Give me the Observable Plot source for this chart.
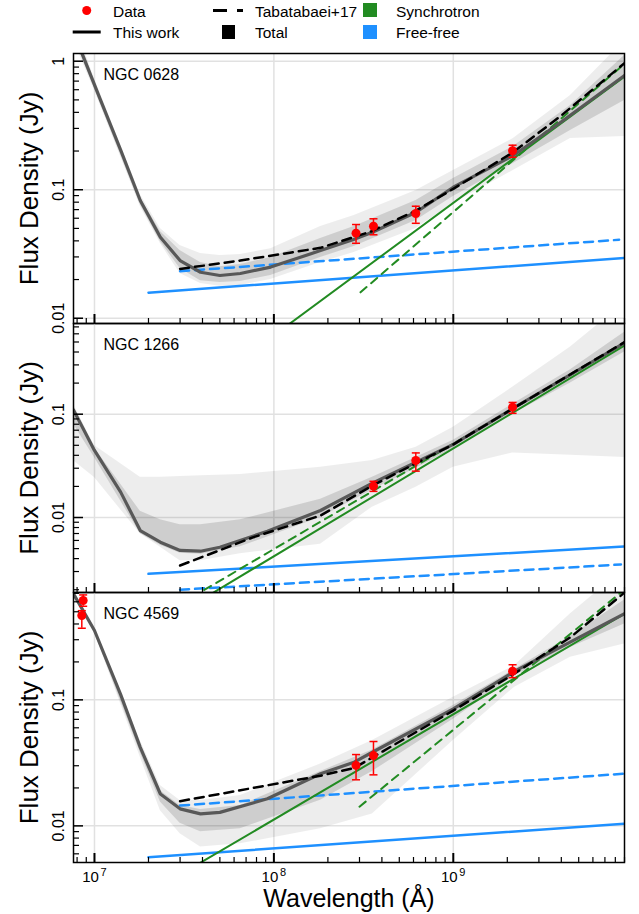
<!DOCTYPE html>
<html>
<head>
<meta charset="utf-8">
<script src="https://cdn.jsdelivr.net/npm/d3@7"></script>
<script src="https://cdn.jsdelivr.net/npm/@observablehq/plot@0.6"></script>
<style>
  body { margin: 0; background: #fff; }
  #wrap { position: relative; width: 639px; height: 914px; overflow: hidden; background: #fff;
          font-family: "Liberation Sans", Arial, Helvetica, sans-serif; }
  .panel { position: absolute; left: 0; }
</style>
</head>
<body>
<div id="wrap">
  <svg id="legend" width="639" height="50" style="position:absolute;left:0;top:0;font-family:'Liberation Sans',Arial,sans-serif;font-size:15.5px">
    <circle cx="86.7" cy="10.5" r="4.5" fill="red"/>
    <text x="113" y="16.5">Data</text>
    <line x1="72.7" x2="100.7" y1="32" y2="32" stroke="black" stroke-width="3"/>
    <text x="113" y="38">This work</text>
    <line x1="213" x2="227" y1="10.5" y2="10.5" stroke="black" stroke-width="3"/>
    <line x1="237" x2="243" y1="10.5" y2="10.5" stroke="black" stroke-width="3"/>
    <text x="255" y="16.5">Tabatabaei+17</text>
    <rect x="222" y="25" width="13" height="14" fill="black"/>
    <text x="255" y="38">Total</text>
    <rect x="363" y="3" width="14" height="14" fill="#228B22"/>
    <text x="396" y="16.5">Synchrotron</text>
    <rect x="363" y="25" width="14" height="14" fill="#1E90FF"/>
    <text x="396" y="38">Free-free</text>
  </svg>
  <div id="p1" class="panel" style="top:43px"></div>
  <div id="p2" class="panel" style="top:313px"></div>
  <div id="p3" class="panel" style="top:582px"></div>
</div>
<script>
// ---------------- shared axis data ----------------
const xDomain = [7.64e6, 9.0e9];
const xMajor = [1e7, 1e8, 1e9];
const xExponents = ["7", "8", "9"];

// ---------------- NGC 0628 ----------------
const p1Name = "NGC 0628";
const p1YDomain = [0.0091, 1.148];
const p1YTicks = [1, 0.1, 0.01];
const p1YLabels = ["1", "0.1", "0.01"];
const p1DataX  = [2.87e8, 3.59e8, 6.18e8, 2.14e9];
const p1DataY  = [0.0459, 0.052, 0.0653, 0.201];
const p1DataLo = [0.0383, 0.0446, 0.0548, 0.179];
const p1DataHi = [0.0536, 0.0594, 0.0744, 0.222];
const p1ModelX = [7.64e6, 8.54e6, 1.08e7, 1.4e7, 1.8e7, 2.33e7, 3e7, 3.9e7, 5e7, 6.5e7, 9.6e7, 1.82e8, 2.78e8, 3.54e8, 6.2e8, 1e9, 2.16e9, 3.97e9, 9e9];
const p1Model  = [1.7, 1.14, 0.50, 0.203, 0.0824, 0.0427, 0.0281, 0.0228, 0.0215, 0.0223, 0.0250, 0.0336, 0.0410, 0.0467, 0.0668, 0.1046, 0.1846, 0.335, 0.774];
const p1FanX       = [7.64e6, 1e7, 1.8e7, 2.33e7, 3e7, 3.9e7, 5e7, 6.5e7, 9.6e7, 1.82e8, 2.8e8, 6.2e8, 1e9, 2.16e9, 4.5e9, 9e9];
const p1FanOuterHi = [2.07, 0.733, 0.0918, 0.0499, 0.0368, 0.0319, 0.0308, 0.0313, 0.0348, 0.0517, 0.063, 0.0986, 0.141, 0.25, 0.541, 1.45];
const p1FanOuterLo = [1.45, 0.592, 0.074, 0.0381, 0.0223, 0.0186, 0.0177, 0.018, 0.020, 0.0271, 0.0324, 0.0499, 0.0781, 0.141, 0.25, 0.26];
const p1FanInnerHi = [1.9, 0.708, 0.0869, 0.0473, 0.0336, 0.0271, 0.0252, 0.0262, 0.0297, 0.0417, 0.0517, 0.0824, 0.122, 0.217, 0.452, 1.11];
const p1FanInnerLo = [1.55, 0.613, 0.0767, 0.0395, 0.0244, 0.0196, 0.019, 0.0193, 0.0215, 0.0297, 0.0361, 0.0576, 0.0885, 0.16, 0.289, 0.494];
const p1TabX = [3e7, 6.5e7, 1.82e8, 3.5e8, 6.2e8, 1e9, 2.16e9, 4e9, 9e9];
const p1Tab  = [0.0242, 0.0281, 0.0353, 0.0475, 0.0689, 0.1016, 0.196, 0.378, 0.965];
const p1FfX = [2e7, 9e9],    p1Ff = [0.0158, 0.0295];
const p1FfTabX = [3e7, 8.4e9], p1FfTab = [0.0232, 0.0408];
const p1SyX = [2e7, 9e9],    p1Sy = [0.0014, 0.76];
const p1SyTabX = [3.04e8, 9e9], p1SyTab = [0.0159, 0.955];

// ---------------- NGC 1266 ----------------
const p2Name = "NGC 1266";
const p2YDomain = [0.00188, 0.755];
const p2YTicks = [0.1, 0.01];
const p2YLabels = ["0.1", "0.01"];
const p2DataX  = [3.59e8, 6.18e8, 2.14e9];
const p2DataY  = [0.0201, 0.0356, 0.117];
const p2DataLo = [0.0179, 0.0281, 0.102];
const p2DataHi = [0.0224, 0.0422, 0.130];
const p2ModelX = [7.64e6, 1e7, 1.4e7, 1.8e7, 2.33e7, 3e7, 3.9e7, 5e7, 9.2e7, 1.82e8, 3.54e8, 6.2e8, 1e9, 2.14e9, 9e9];
const p2Model  = [0.11, 0.0446, 0.0176, 0.00748, 0.00577, 0.0048, 0.00472, 0.00516, 0.00736, 0.0117, 0.0215, 0.0343, 0.051, 0.113, 0.49];
const p2FanX       = [7.64e6, 1e7, 1.8e7, 2.33e7, 3e7, 3.9e7, 6.5e7, 1.82e8, 3.54e8, 6.2e8, 1e9, 2.14e9, 4.5e9, 9e9];
const p2FanOuterHi = [0.124, 0.0498, 0.0245, 0.0245, 0.0249, 0.0253, 0.0261, 0.0307, 0.0356, 0.048, 0.0748, 0.182, 0.446, 1.2];
const p2FanOuterLo = [0.0354, 0.0244, 0.00695, 0.00516, 0.00382, 0.00382, 0.00446, 0.0055, 0.0126, 0.0196, 0.0307, 0.042, 0.040, 0.038];
const p2FanInnerHi = [0.115, 0.047, 0.0115, 0.0095, 0.0085, 0.0085, 0.0095, 0.015, 0.0245, 0.038, 0.056, 0.125, 0.27, 0.62];
const p2FanInnerLo = [0.08, 0.038, 0.0070, 0.0054, 0.0045, 0.0044, 0.0052, 0.010, 0.0185, 0.030, 0.046, 0.10, 0.20, 0.40];
const p2TabX = [3e7, 7.7e7, 1.82e8, 3.54e8, 1e9, 2.14e9, 9e9];
const p2Tab  = [0.00343, 0.00645, 0.01045, 0.0204, 0.051, 0.113, 0.498];
const p2FfX = [2e7, 9e9],    p2Ff = [0.00285, 0.00524];
const p2FfTabX = [3e7, 8.6e9], p2FfTab = [0.0020, 0.00351];
const p2SyX = [3e7, 9e9],    p2Sy = [0.0012, 0.462];
const p2SyTabX = [3e7, 9e9], p2SyTab = [0.00145, 0.485];

// ---------------- NGC 4569 ----------------
const p3Name = "NGC 4569";
const p3YDomain = [0.00512, 0.711];
const p3YTicks = [0.1, 0.01];
const p3YLabels = ["0.1", "0.01"];
const p3DataX  = [8.5e6, 8.65e6, 2.87e8, 3.59e8, 2.14e9];
const p3DataY  = [0.467, 0.614, 0.0302, 0.0361, 0.169];
const p3DataLo = [0.37, 0.553, 0.0232, 0.0254, 0.15];
const p3DataHi = [0.51, 0.68, 0.0368, 0.0467, 0.19];
const p3ModelX = [7.64e6, 1e7, 1.4e7, 1.8e7, 2.33e7, 3e7, 3.9e7, 5e7, 9.2e7, 1.82e8, 2.8e8, 3.54e8, 1e9, 2.2e9, 9e9];
const p3Model  = [0.693, 0.355, 0.11, 0.042, 0.0179, 0.01365, 0.01245, 0.0128, 0.0164, 0.0259, 0.032, 0.0384, 0.0849, 0.169, 0.482];
const p3FanX       = [7.64e6, 1e7, 1.8e7, 2.33e7, 3e7, 3.9e7, 6.5e7, 1.82e8, 3.54e8, 1e9, 2.2e9, 4.5e9, 9e9];
const p3FanOuterHi = [0.72, 0.37, 0.0476, 0.0209, 0.0159, 0.0159, 0.0174, 0.031, 0.0476, 0.105, 0.187, 0.482, 1.1];
const p3FanOuterLo = [0.66, 0.34, 0.035, 0.0132, 0.00865, 0.0068, 0.0072, 0.0095, 0.0124, 0.0476, 0.126, 0.218, 0.278];
const p3FanInnerHi = [0.70, 0.36, 0.044, 0.019, 0.0145, 0.0135, 0.0145, 0.027, 0.040, 0.09, 0.175, 0.32, 0.62];
const p3FanInnerLo = [0.68, 0.345, 0.038, 0.0155, 0.0105, 0.0090, 0.0095, 0.016, 0.027, 0.07, 0.155, 0.26, 0.40];
const p3TabX = [3e7, 1.82e8, 2.8e8, 1e9, 2.14e9, 4.5e9, 9e9];
const p3Tab  = [0.0157, 0.025, 0.0288, 0.0822, 0.158, 0.314, 0.71];
const p3FfX = [2e7, 9e9],    p3Ff = [0.00564, 0.0104];
const p3FfTabX = [3e7, 8.8e9], p3FfTab = [0.0145, 0.0259];
const p3SyX = [3e7, 9e9],    p3Sy = [0.0041, 0.482];
const p3SyTabX = [3.0e8, 9e9], p3SyTab = [0.0142, 0.75];

// ---------------- styles ----------------
const FONT = "'Liberation Sans', Arial, Helvetica, sans-serif";
const GREEN = "#228B22", BLUE = "#1E90FF", MODEL = "#585858";

const pts = (xs, ys) => xs.map((x, i) => ({x, y: ys[i]}));
const band = (xs, lo, hi) => xs.map((x, i) => ({x, lo: lo[i], hi: hi[i]}));
const errs = (xs, ys, lo, hi) => xs.map((x, i) => ({x, y: ys[i], lo: lo[i], hi: hi[i]}));

function logTicks(domain) {
  const minor = [], major = [];
  for (let e = -4; e <= 10; e++) for (let k = 1; k <= 9; k++) {
    const v = +(k * Math.pow(10, e)).toPrecision(6);
    if (v >= domain[0] * 0.9999 && v <= domain[1] * 1.0001) (k === 1 ? major : minor).push(v);
  }
  return {minor, major};
}

const capSymbol = {draw(ctx) { ctx.moveTo(-4, 0); ctx.lineTo(4, 0); }};

function makePanel(p, H, mt, mb, bottomAxis) {
  const W = 639, ml = 73, mr = 15;
  const iw = W - ml - mr, ih = H - mt - mb;
  const yt = logTicks(p.yDomain), xt = logTicks(xDomain);
  const d = errs(p.dataX, p.dataY, p.dataLo, p.dataHi);
  const marks = [
    Plot.ruleX(xMajor, {stroke: "#e1e1e1", strokeWidth: 1.5}),
    Plot.ruleY(yt.major, {stroke: "#e1e1e1", strokeWidth: 1.5}),
    Plot.areaY(band(p.fanX, p.outerLo, p.outerHi), {x: "x", y1: "lo", y2: "hi", fill: "#000", fillOpacity: 0.07, clip: true}),
    Plot.areaY(band(p.fanX, p.innerLo, p.innerHi), {x: "x", y1: "lo", y2: "hi", fill: "#000", fillOpacity: 0.13, clip: true}),
    Plot.line(pts(p.ffX, p.ff), {x: "x", y: "y", stroke: BLUE, strokeWidth: 2.5, clip: true}),
    Plot.line(pts(p.ffTabX, p.ffTab), {x: "x", y: "y", stroke: BLUE, strokeWidth: 2.5, strokeDasharray: "9,6", clip: true}),
    Plot.line(pts(p.syX, p.sy), {x: "x", y: "y", stroke: GREEN, strokeWidth: 2, clip: true}),
    Plot.line(pts(p.syTabX, p.syTab), {x: "x", y: "y", stroke: GREEN, strokeWidth: 2, strokeDasharray: "8,6", clip: true}),
    Plot.line(pts(p.modelX, p.model), {x: "x", y: "y", stroke: MODEL, strokeWidth: 3.2, clip: true}),
    Plot.line(pts(p.tabX, p.tab), {x: "x", y: "y", stroke: "black", strokeWidth: 2.5, strokeDasharray: "9,6", clip: true}),
    Plot.ruleX(d, {x: "x", y1: "lo", y2: "hi", stroke: "red", strokeWidth: 1.5, clip: true}),
    Plot.dot(d, {x: "x", y: "lo", symbol: capSymbol, stroke: "red", fill: "none", strokeWidth: 1.5, clip: true}),
    Plot.dot(d, {x: "x", y: "hi", symbol: capSymbol, stroke: "red", fill: "none", strokeWidth: 1.5, clip: true}),
    Plot.dot(d, {x: "x", y: "y", r: 4.5, fill: "red", stroke: "none", clip: true}),
    Plot.frame({stroke: "black", strokeWidth: 1.5}),
    Plot.ruleY(yt.minor, {stroke: "black", strokeWidth: 1.2, insetRight: iw - 6}),
    Plot.ruleY(yt.major, {stroke: "black", strokeWidth: 1.5, insetRight: iw - 10}),
    Plot.ruleX(xt.minor, {stroke: "black", strokeWidth: 1.2, insetTop: ih - 5}),
    Plot.ruleX(xt.major, {stroke: "black", strokeWidth: 2, insetTop: ih - 9}),
    Plot.text(p.yTicks.map((v, i) => ({v, label: p.yLabels[i]})), {
      y: "v", text: "label", frameAnchor: "left", dx: -10, rotate: -90,
      textAnchor: "middle", lineAnchor: "bottom", fontSize: 16, fill: "black"}),
    Plot.text(["Flux Density (Jy)"], {frameAnchor: "left", dx: -36, rotate: -90,
      textAnchor: "middle", lineAnchor: "bottom", fontSize: 26, fill: "black"}),
    Plot.text([p.name], {frameAnchor: "top-left", dx: 30, dy: 26, textAnchor: "start",
      lineAnchor: "bottom", fontSize: 16, fill: "black"})
  ];
  if (bottomAxis) {
    marks.push(
      Plot.text(xMajor, {x: v => v, text: () => "10", frameAnchor: "bottom", dx: -4, dy: 19,
        textAnchor: "middle", lineAnchor: "bottom", fontSize: 15, fill: "black"}),
      Plot.text(xMajor.map((v, i) => ({v, e: xExponents[i]})), {x: "v", text: "e", frameAnchor: "bottom",
        dx: 6, dy: 13, textAnchor: "start", lineAnchor: "bottom", fontSize: 11, fill: "black"}),
      Plot.text(["Wavelength (Å)"], {frameAnchor: "bottom", dy: 44, textAnchor: "middle",
        lineAnchor: "bottom", fontSize: 25, fill: "black"})
    );
  }
  return Plot.plot({
    width: W, height: H, marginLeft: ml, marginRight: mr, marginTop: mt, marginBottom: mb,
    style: {background: "transparent", overflow: "visible", fontFamily: FONT},
    x: {type: "log", domain: xDomain, axis: null},
    y: {type: "log", domain: p.yDomain, axis: null},
    marks
  });
}

const panels = [
  {name: p1Name, yDomain: p1YDomain, yTicks: p1YTicks, yLabels: p1YLabels,
   dataX: p1DataX, dataY: p1DataY, dataLo: p1DataLo, dataHi: p1DataHi,
   modelX: p1ModelX, model: p1Model, fanX: p1FanX, outerLo: p1FanOuterLo, outerHi: p1FanOuterHi,
   innerLo: p1FanInnerLo, innerHi: p1FanInnerHi, tabX: p1TabX, tab: p1Tab,
   ffX: p1FfX, ff: p1Ff, ffTabX: p1FfTabX, ffTab: p1FfTab, syX: p1SyX, sy: p1Sy, syTabX: p1SyTabX, syTab: p1SyTab},
  {name: p2Name, yDomain: p2YDomain, yTicks: p2YTicks, yLabels: p2YLabels,
   dataX: p2DataX, dataY: p2DataY, dataLo: p2DataLo, dataHi: p2DataHi,
   modelX: p2ModelX, model: p2Model, fanX: p2FanX, outerLo: p2FanOuterLo, outerHi: p2FanOuterHi,
   innerLo: p2FanInnerLo, innerHi: p2FanInnerHi, tabX: p2TabX, tab: p2Tab,
   ffX: p2FfX, ff: p2Ff, ffTabX: p2FfTabX, ffTab: p2FfTab, syX: p2SyX, sy: p2Sy, syTabX: p2SyTabX, syTab: p2SyTab},
  {name: p3Name, yDomain: p3YDomain, yTicks: p3YTicks, yLabels: p3YLabels,
   dataX: p3DataX, dataY: p3DataY, dataLo: p3DataLo, dataHi: p3DataHi,
   modelX: p3ModelX, model: p3Model, fanX: p3FanX, outerLo: p3FanOuterLo, outerHi: p3FanOuterHi,
   innerLo: p3FanInnerLo, innerHi: p3FanInnerHi, tabX: p3TabX, tab: p3Tab,
   ffX: p3FfX, ff: p3Ff, ffTabX: p3FfTabX, ffTab: p3FfTab, syX: p3SyX, sy: p3Sy, syTabX: p3SyTabX, syTab: p3SyTab}
];

document.getElementById("p1").appendChild(makePanel(panels[0], 290, 10, 10, false));
document.getElementById("p2").appendChild(makePanel(panels[1], 289, 10, 10, false));
document.getElementById("p3").appendChild(makePanel(panels[2], 332, 10, 52, true));
</script>
</body>
</html>
